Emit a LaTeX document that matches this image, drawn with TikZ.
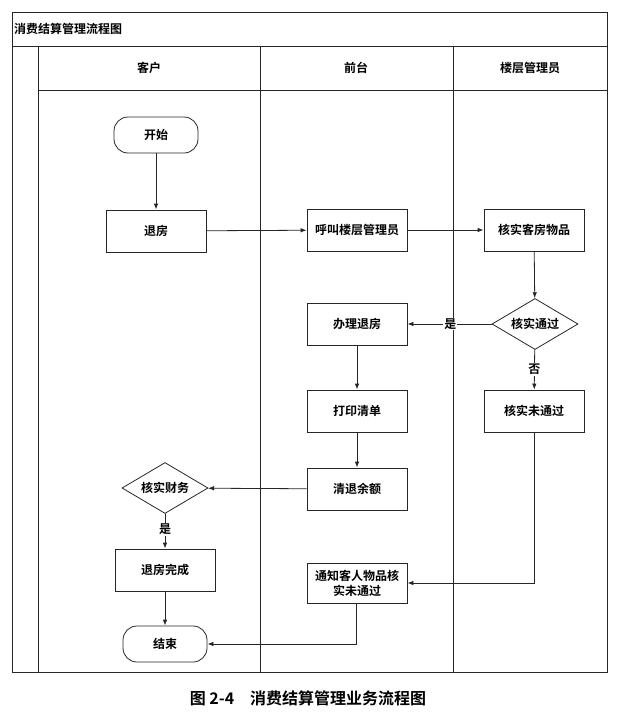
\documentclass[tikz,border=0pt]{standalone}
\usepackage{fontspec}
\newfontfamily\cjk{Noto Sans CJK SC Bold}
\newfontfamily\cjkb{Noto Sans CJK SC Bold}
\usetikzlibrary{shapes.geometric,arrows.meta}
\tikzset{
  ln/.style={draw=black!85, line width=0.8pt},
  box/.style={ln, rectangle, minimum width=100pt, minimum height=42pt, inner sep=1pt, font=\cjk\fontsize{12}{15}\selectfont, align=center},
  term/.style={ln, rectangle, rounded corners=14pt, minimum width=84pt, minimum height=36pt, font=\cjk\fontsize{12}{15}\selectfont},
  dec/.style={ln, diamond, aspect=1.7, minimum width=86pt, minimum height=51pt, inner sep=0pt, font=\cjk\fontsize{12}{15}\selectfont},
  arr/.style={ln, -{Latex[length=6pt,width=4.5pt]}},
  lab/.style={font=\cjk\fontsize{12}{15}\selectfont, fill=white, inner sep=1pt},
  hdr/.style={font=\cjk\fontsize{12}{15}\selectfont}
}
\begin{document}
\begin{tikzpicture}[x=1pt,y=-1pt]
\useasboundingbox (0,0) rectangle (619,715);
% frame
\draw[ln] (12,12) rectangle (607,672);
\draw[ln] (12,46) -- (607,46);
\draw[ln] (38,46) -- (38,672);
\draw[ln] (38,90) -- (607,90);
\draw[ln] (260,46) -- (260,672);
\draw[ln] (453,46) -- (453,672);
\node[hdr, anchor=west, inner sep=0pt] (title) at (14,29) {消费结算管理流程图};
\node[hdr] (h1) at (149,68) {客户};
\node[hdr] (h2) at (356,68) {前台};
\node[hdr] (h3) at (530,68) {楼层管理员};
% nodes
\node[term] (start) at (156,135) {开始};
\node[box] (tuifang) at (156,231) {退房};
\node[box] (hujiao) at (357,230) {呼叫楼层管理员};
\node[box] (heshi) at (534,230) {核实客房物品};
\node[dec] (tongguo) at (535,324) {核实通过};
\node[box] (banli) at (357,324) {办理退房};
\node[box] (weitong) at (534,411) {核实未通过};
\node[box] (dayin) at (357,411) {打印清单};
\node[box] (qingtui) at (357,489) {清退余额};
\node[dec] (caiwu) at (165,488) {核实财务};
\node[box] (wancheng) at (165,570) {退房完成};
\node[box, minimum height=40pt] (tongzhi) at (357,583) {通知客人物品核\\实未通过};
\node[term] (end) at (165,644) {结束};
\coordinate (c1) at (534,583);
\coordinate (c2) at (356,644);
% edges
\draw[arr] (start) -- (tuifang);
\draw[arr] (tuifang) -- (hujiao);
\draw[arr] (hujiao) -- (heshi);
\draw[arr] (heshi) -- (tongguo);
\draw[arr] (tongguo) -- node[lab, pos=0.49] {是} (banli);
\draw[arr] (tongguo) -- node[lab, pos=0.5] {否} (weitong);
\draw[arr] (banli) -- (dayin);
\draw[arr] (dayin) -- (qingtui);
\draw[arr] (qingtui) -- (caiwu);
\draw[arr] (caiwu) -- node[lab, pos=0.45] {是} (wancheng);
\draw[arr] (wancheng) -- (end);
\draw[arr] (weitong.south) -- (c1) -- (tongzhi.east);
\draw[arr] (tongzhi.south -| c2) -- (c2) -- (end.east);
% caption
\node[font=\cjkb\fontsize{16}{18}\selectfont] (cap) at (308,698) {图 2-4\quad 消费结算管理业务流程图};
\end{tikzpicture}
\end{document}
